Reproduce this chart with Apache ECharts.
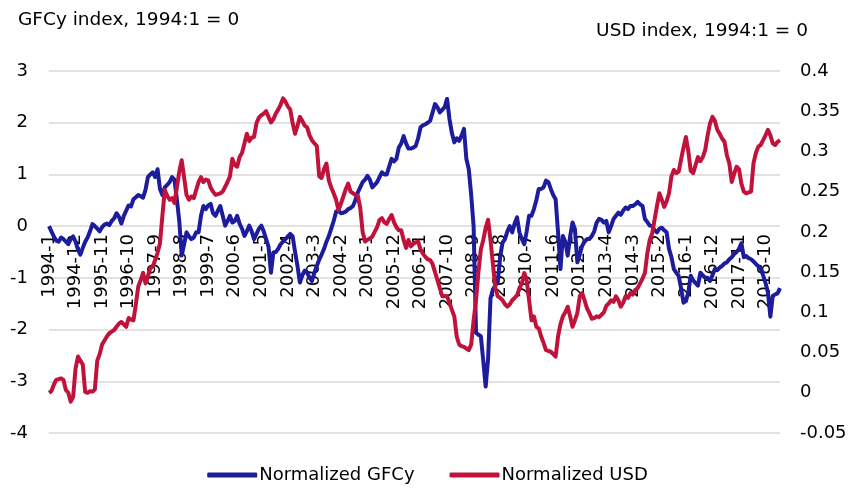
<!DOCTYPE html>
<html>
<head>
<meta charset="utf-8">
<script src="https://cdn.jsdelivr.net/npm/echarts@6/dist/echarts.min.js"></script>
<style>
  html, body { margin: 0; padding: 0; background: #fff; }
  #chart { width: 855px; height: 492px; }
</style>
</head>
<body>
<div id="chart"></div>
<script>
// monthly, 1994-1 .. 2019-4
var startYear = 1994;
var monthCount = 304;

// Normalized GFCy (left axis), one line per year
var gfcy = [
  0.0, -0.1, -0.2, -0.28, -0.3, -0.22, -0.25, -0.3, -0.35, -0.25, -0.2, -0.3,
  -0.45, -0.55, -0.42, -0.3, -0.22, -0.1, 0.04, 0.0, -0.05, -0.1, -0.02, 0.03,
  0.05, 0.02, 0.1, 0.15, 0.25, 0.18, 0.05, 0.2, 0.3, 0.4, 0.38, 0.52,
  0.56, 0.6, 0.58, 0.55, 0.7, 0.95, 1.0, 1.04, 0.95, 1.1, 0.72, 0.6,
  0.75, 0.8, 0.85, 0.95, 0.9, 0.52, 0.1, -0.57, -0.35, -0.12, -0.2, -0.25,
  -0.22, -0.12, -0.12, 0.2, 0.39, 0.33, 0.4, 0.43, 0.25, 0.2, 0.3, 0.39,
  0.2, 0.01, 0.1, 0.2, 0.07, 0.1, 0.2, 0.05, -0.05, -0.19, -0.1, 0.01,
  -0.1, -0.25, -0.15, -0.05, 0.01, -0.1, -0.25, -0.4, -0.9, -0.51, -0.5, -0.44,
  -0.35, -0.3, -0.25, -0.2, -0.15, -0.2, -0.5, -0.77, -1.09, -0.95, -0.86, -0.9,
  -1.0, -1.06, -0.9, -0.77, -0.65, -0.55, -0.44, -0.3, -0.19, -0.05, 0.1, 0.28,
  0.3, 0.25, 0.26, 0.28, 0.33, 0.35, 0.39, 0.5, 0.65, 0.75, 0.85, 0.9,
  0.97, 0.9, 0.75, 0.8, 0.85, 0.95, 1.04, 1.0, 1.0, 1.15, 1.3, 1.25,
  1.3, 1.52, 1.6, 1.74, 1.6, 1.5, 1.5, 1.52, 1.55, 1.7, 1.91, 1.95,
  1.97, 2.0, 2.04, 2.2, 2.36, 2.3, 2.2, 2.25, 2.3, 2.46, 2.07, 1.8,
  1.62, 1.7, 1.65, 1.75, 1.88, 1.3, 1.1, 0.6, 0.0, -2.06, -2.1, -2.13,
  -2.6, -3.1, -2.57, -1.4, -1.22, -1.15, -1.09, -0.6, -0.32, -0.25, -0.1, 0.0,
  -0.12, 0.05, 0.17, -0.12, -0.25, -0.35, -0.1, 0.2, 0.2, 0.33, 0.5, 0.72,
  0.72, 0.75, 0.88, 0.85, 0.72, 0.6, 0.52, -0.12, -0.83, -0.19, -0.3, -0.57,
  -0.2, 0.07, -0.06, -0.7, -0.55, -0.38, -0.3, -0.25, -0.25, -0.19, -0.1, 0.07,
  0.14, 0.12, 0.07, 0.1, -0.12, 0.0, 0.14, 0.2, 0.26, 0.22, 0.3, 0.36,
  0.33, 0.39, 0.39, 0.42, 0.47, 0.42, 0.39, 0.14, 0.08, 0.01, 0.0, -0.08,
  -0.12, -0.05, -0.03, -0.08, -0.12, -0.44, -0.6, -0.83, -0.9, -0.96, -1.2, -1.48,
  -1.45, -1.28, -0.96, -1.05, -1.1, -1.15, -0.9, -0.95, -1.0, -1.0, -1.06, -0.95,
  -0.83, -0.85, -0.8, -0.77, -0.72, -0.7, -0.64, -0.6, -0.54, -0.5, -0.44, -0.33,
  -0.6, -0.58, -0.62, -0.64, -0.68, -0.73, -0.78, -0.83, -0.95, -1.1, -1.28, -1.75,
  -1.35, -1.32, -1.3, -1.2
];

// Normalized USD (right axis)
var usd = [
  0.0, 0.002, 0.01, 0.016, 0.017, 0.018, 0.016, 0.0035, 0.0, -0.011, -0.005, 0.03,
  0.045, 0.04, 0.035, 0.001, 0.0, 0.002, 0.0014, 0.004, 0.04, 0.048, 0.06, 0.065,
  0.07, 0.074, 0.076, 0.078, 0.082, 0.086, 0.088, 0.085, 0.082, 0.093, 0.091, 0.09,
  0.11, 0.132, 0.14, 0.149, 0.136, 0.145, 0.155, 0.157, 0.165, 0.174, 0.186, 0.22,
  0.252, 0.245, 0.24, 0.242, 0.236, 0.255, 0.275, 0.289, 0.268, 0.246, 0.24, 0.244,
  0.242, 0.252, 0.262, 0.268, 0.262, 0.265, 0.264, 0.255, 0.25, 0.246, 0.247, 0.248,
  0.25, 0.256, 0.262, 0.269, 0.291, 0.283, 0.281, 0.293, 0.298, 0.31, 0.322, 0.313,
  0.317, 0.318, 0.335, 0.342, 0.345, 0.347, 0.35, 0.343, 0.336, 0.34, 0.347, 0.352,
  0.358, 0.366, 0.362, 0.356, 0.352, 0.335, 0.322, 0.332, 0.343, 0.338, 0.332, 0.33,
  0.32, 0.314, 0.31, 0.307, 0.269, 0.267, 0.278, 0.285, 0.264, 0.255, 0.248, 0.24,
  0.227, 0.235, 0.244, 0.253, 0.26, 0.25, 0.248, 0.246, 0.245, 0.23, 0.2, 0.188,
  0.19, 0.192, 0.194, 0.2, 0.206, 0.215, 0.217, 0.212, 0.21, 0.216, 0.221, 0.212,
  0.206, 0.202, 0.202, 0.19, 0.18, 0.19, 0.182, 0.185, 0.187, 0.188, 0.178, 0.173,
  0.169, 0.166, 0.165, 0.16, 0.15, 0.14, 0.13, 0.12, 0.12, 0.12, 0.112, 0.103,
  0.095, 0.07, 0.06, 0.058, 0.057, 0.055, 0.053, 0.06, 0.09, 0.115, 0.15, 0.178,
  0.19, 0.205, 0.215, 0.19, 0.16, 0.13, 0.12, 0.118, 0.115, 0.11, 0.107, 0.11,
  0.115, 0.118, 0.121, 0.13, 0.136, 0.149, 0.14, 0.115, 0.09, 0.095, 0.082, 0.08,
  0.07, 0.062, 0.053, 0.052, 0.051, 0.048, 0.045, 0.07, 0.085, 0.095, 0.1, 0.107,
  0.095, 0.082, 0.09, 0.099, 0.12, 0.124, 0.115, 0.105, 0.099, 0.092, 0.093, 0.095,
  0.094, 0.097, 0.1, 0.108, 0.111, 0.115, 0.113, 0.12, 0.115, 0.107, 0.112, 0.12,
  0.118, 0.124, 0.122, 0.128, 0.13, 0.136, 0.142, 0.149, 0.173, 0.19, 0.198, 0.215,
  0.232, 0.248, 0.24, 0.231, 0.238, 0.248, 0.269, 0.277, 0.273, 0.275, 0.29, 0.305,
  0.318, 0.3, 0.276, 0.273, 0.283, 0.293, 0.288, 0.293, 0.302, 0.32, 0.335, 0.343,
  0.338, 0.327, 0.322, 0.316, 0.312, 0.295, 0.285, 0.262, 0.272, 0.281, 0.278, 0.26,
  0.25, 0.248, 0.249, 0.25, 0.285, 0.298, 0.306, 0.308, 0.314, 0.32, 0.327, 0.32,
  0.31, 0.308, 0.312, 0.314
];

var months = [];
for (var i = 0; i < monthCount; i++) {
  months.push((startYear + Math.floor(i / 12)) + "-" + (i % 12 + 1));
}

var font = "DejaVu Sans";
var chart = echarts.init(document.getElementById("chart"));
var option = {
  animation: false,
  backgroundColor: "#fff",
  textStyle: { fontFamily: font, color: "#000" },
  graphic: [
    {
      type: "text", x: 18, y: 20,
      style: {
        text: "GFCy index, 1994:1 = 0", fontFamily: font, fontSize: 18.5,
        fill: "#000", align: "left", verticalAlign: "middle"
      }
    },
    {
      type: "text", x: 808, y: 31,
      style: {
        text: "USD index, 1994:1 = 0", fontFamily: font, fontSize: 18.5,
        fill: "#000", align: "right", verticalAlign: "middle"
      }
    }
  ],
  grid: { left: 49, right: 75, top: 71, bottom: 59 },
  legend: {
    bottom: 3,
    left: "center",
    itemWidth: 50,
    itemHeight: 5,
    itemGap: 35,
    icon: "roundRect",
    textStyle: { fontFamily: font, fontSize: 18, color: "#000", padding: [0, 0, 0, -3] },
    data: ["Normalized GFCy", "Normalized USD"]
  },
  xAxis: {
    type: "category",
    data: months,
    boundaryGap: false,
    offset: -207,
    axisLine: { show: false, onZero: false },
    axisTick: { show: false },
    axisLabel: {
      interval: 10,
      rotate: 90,
      margin: 8,
      fontFamily: font,
      fontSize: 18,
      color: "#000"
    },
    splitLine: { show: false }
  },
  yAxis: [
    {
      type: "value",
      min: -4, max: 3, interval: 1,
      axisLine: { show: false },
      axisTick: { show: false },
      axisLabel: { fontFamily: font, fontSize: 18, color: "#000", margin: 21 },
      splitLine: { lineStyle: { color: "#d9d9d9", width: 1.5 } }
    },
    {
      type: "value",
      min: -0.05, max: 0.4, interval: 0.05,
      axisLine: { show: false },
      axisTick: { show: false },
      axisLabel: { fontFamily: font, fontSize: 18, color: "#000", margin: 20 },
      splitLine: { show: false }
    }
  ],
  series: [
    {
      name: "Normalized GFCy",
      type: "line",
      yAxisIndex: 0,
      data: gfcy,
      showSymbol: false,
      symbol: "none",
      color: "#1c1c9c",
      lineStyle: { width: 4, color: "#1c1c9c", join: "round" }
    },
    {
      name: "Normalized USD",
      type: "line",
      yAxisIndex: 1,
      data: usd,
      showSymbol: false,
      symbol: "none",
      color: "#c0123a",
      lineStyle: { width: 4, color: "#c0123a", join: "round" }
    }
  ]
};
chart.setOption(option);
</script>
</body>
</html>
